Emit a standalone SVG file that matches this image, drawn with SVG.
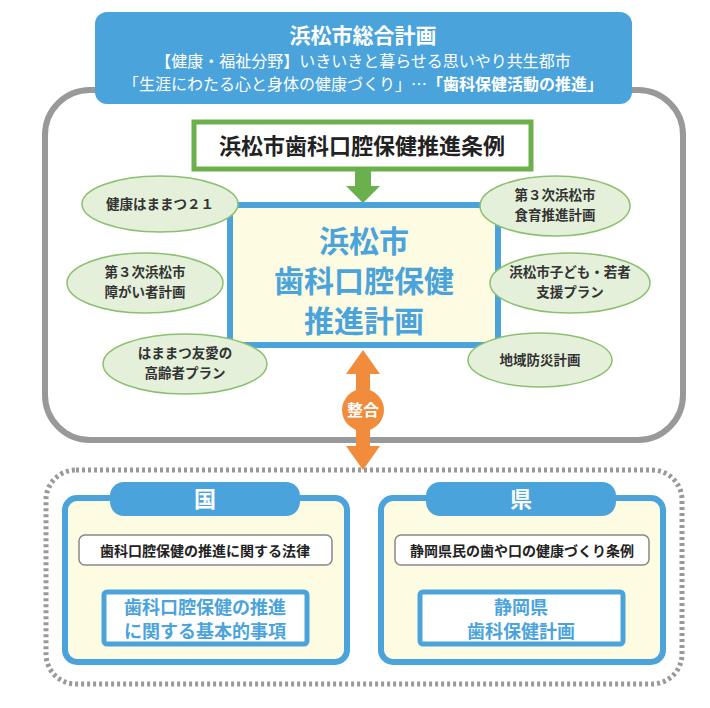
<svg xmlns="http://www.w3.org/2000/svg" width="710" height="708" viewBox="0 0 710 708">
<defs>
<style>
text{font-family:"Noto Sans CJK JP",sans-serif;text-anchor:middle;font-weight:bold}
text.n{font-weight:normal}
.el{fill:#e4f0da;stroke:#8cc070;stroke-width:1.5}
.et{font-size:13.5px;fill:#333}
.panel{fill:#fdfbe1;stroke:#4ba3dc;stroke-width:6}
.tab{fill:#4ba3dc}
.gbox{fill:#fff;stroke:#888;stroke-width:1.5}
.bbox{fill:#fff;stroke:#4ba3dc;stroke-width:5}
.bt{fill:#4ba3dc;font-size:18px}
</style>
</defs>
<rect width="710" height="708" fill="#fff"/>
<rect id="outer" x="45" y="90" width="638" height="350" rx="45" fill="#fff" stroke="#999" stroke-width="6"/>
<g id="sogo">
<rect x="95" y="12" width="537" height="92" rx="12" fill="#4ba3dc"/>
<text x="363" y="43" font-size="21" fill="#fff">浜松市総合計画</text>
<text class="n" x="363" y="67" font-size="16" fill="#fff">【健康・福祉分野】いきいきと暮らせる思いやり共生都市</text>
<text class="n" x="363" y="90" font-size="16" fill="#fff">「生涯にわたる心と身体の健康づくり」…<tspan font-weight="bold">「歯科保健活動の推進」</tspan></text>
</g>
<g id="jorei">
<rect x="194" y="122" width="337" height="47" fill="#fff" stroke="#6ab04c" stroke-width="5"/>
<text x="362" y="154" font-size="22" fill="#222">浜松市歯科口腔保健推進条例</text>
</g>
<g id="connectors">
<path d="M355 170 H371 V186 H380 L363 203 L346 186 H355 Z" fill="#6ab04c"/>
<path d="M363 350 L380 374 H370 V446 H380 L363 470 L346 446 H356 V374 H346 Z" fill="#f08c3c"/>
<path d="M198 565 H212 V578 H220 L205 590 L190 578 H198 Z" fill="#999"/>
<path d="M514 565 H528 V578 H536 L521 590 L506 578 H514 Z" fill="#999"/>
</g>
<g id="keikaku">
<rect x="230" y="205" width="268" height="140" fill="#fdfbe1" stroke="#4ba3dc" stroke-width="6"/>
<text x="364" y="252" font-size="30" fill="#4ba3dc">浜松市</text>
<text x="364" y="292" font-size="30" fill="#4ba3dc">歯科口腔保健</text>
<text x="364" y="332" font-size="30" fill="#4ba3dc">推進計画</text>
</g>
<g id="e1"><ellipse class="el" cx="160" cy="204" rx="78" ry="28"/><text class="et" x="160" y="209">健康はままつ２１</text></g>
<g id="e2"><ellipse class="el" cx="555" cy="206" rx="75" ry="30"/><text class="et" x="555" y="200">第３次浜松市</text><text class="et" x="555" y="220">食育推進計画</text></g>
<g id="e3"><ellipse class="el" cx="145" cy="283" rx="78" ry="30"/><text class="et" x="145" y="277">第３次浜松市</text><text class="et" x="145" y="297">障がい者計画</text></g>
<g id="e4"><ellipse class="el" cx="570" cy="283" rx="80" ry="30"/><text class="et" x="570" y="277">浜松市子ども・若者</text><text class="et" x="570" y="297">支援プラン</text></g>
<g id="e5"><ellipse class="el" cx="185" cy="364" rx="82" ry="30"/><text class="et" x="185" y="358">はままつ友愛の</text><text class="et" x="185" y="378">高齢者プラン</text></g>
<g id="e6"><ellipse class="el" cx="540" cy="360" rx="72" ry="27"/><text class="et" x="540" y="365">地域防災計画</text></g>
<g id="seigo"><circle cx="363" cy="410" r="21" fill="#f08c3c"/><text x="363" y="416" font-size="16" fill="#fff">整合</text></g>
<rect id="dotted" x="46" y="470" width="636" height="214" rx="30" fill="none" stroke="#999" stroke-width="5" stroke-dasharray="3 3"/>
<g id="kuni">
<rect class="panel" x="65" y="498" width="282" height="164" rx="12"/>
<rect class="tab" x="110" y="482" width="190" height="34" rx="14"/>
<text x="205" y="507" font-size="22" fill="#fff">国</text>
<rect class="gbox" x="79" y="535" width="253" height="30" rx="6"/>
<text x="205" y="556" font-size="14" fill="#222">歯科口腔保健の推進に関する法律</text>
<rect class="bbox" x="104" y="592" width="203" height="52" rx="3"/>
<text class="bt" x="205" y="614">歯科口腔保健の推進</text>
<text class="bt" x="205" y="638">に関する基本的事項</text>
</g>
<g id="ken">
<rect class="panel" x="381" y="498" width="282" height="164" rx="12"/>
<rect class="tab" x="426" y="482" width="190" height="34" rx="14"/>
<text x="521" y="507" font-size="22" fill="#fff">県</text>
<rect class="gbox" x="395" y="535" width="254" height="30" rx="6"/>
<text x="522" y="556" font-size="14" fill="#222">静岡県民の歯や口の健康づくり条例</text>
<rect class="bbox" x="420" y="592" width="203" height="52" rx="3"/>
<text class="bt" x="521" y="614">静岡県</text>
<text class="bt" x="521" y="638">歯科保健計画</text>
</g>
</svg>
